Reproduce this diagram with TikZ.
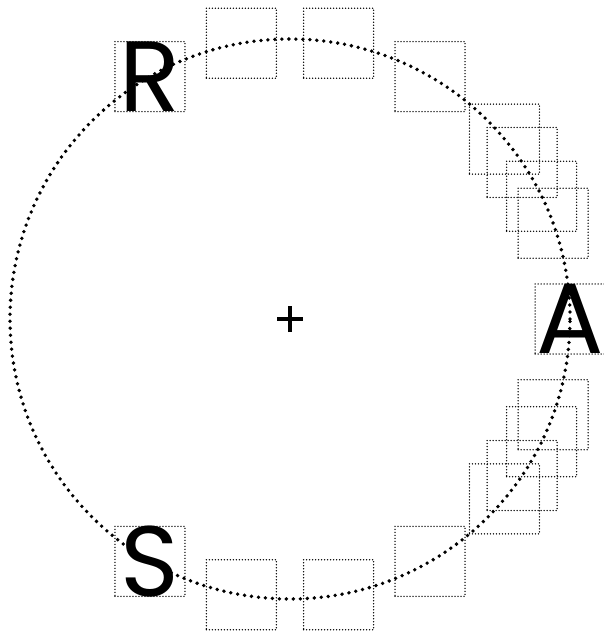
\documentclass[tikz,border=0pt]{standalone}
\usepackage{fontspec}
\setmainfont{Poppins}
\begin{document}
\begin{tikzpicture}[x=1pt,y=1pt,
    slot/.style={draw,line width=1.5pt,line cap=round,dash pattern=on 0pt off 3pt,minimum size=70pt,inner sep=0pt},
    letter/.style={inner sep=0pt,font=\fontsize{100}{100}\selectfont}]
    \useasboundingbox (-290,-318) rectangle (313,319);

    % ring and centre mark
    \draw[line width=3.8pt,line cap=round,dash pattern=on 0pt off 7pt] (0,0) circle (280);
    \coordinate (c) at (0,0);
    \draw[line width=3.2pt] ([xshift=-13pt]c) -- ([xshift=13pt]c) ([yshift=-13pt]c) -- ([yshift=13pt]c);

    \foreach \a in {120,100,80,60,40,34,26,20,0,-20,-26,-34,-40,-60,-80,-100,-120}
      \node[slot] (b\a) at (\a:280) {};

    \node[letter] (R) at (b120) {R};
    \node[letter] (A) at (b0) {A};
    \node[letter] (S) at (b-120) {S};
\end{tikzpicture}
\end{document}
